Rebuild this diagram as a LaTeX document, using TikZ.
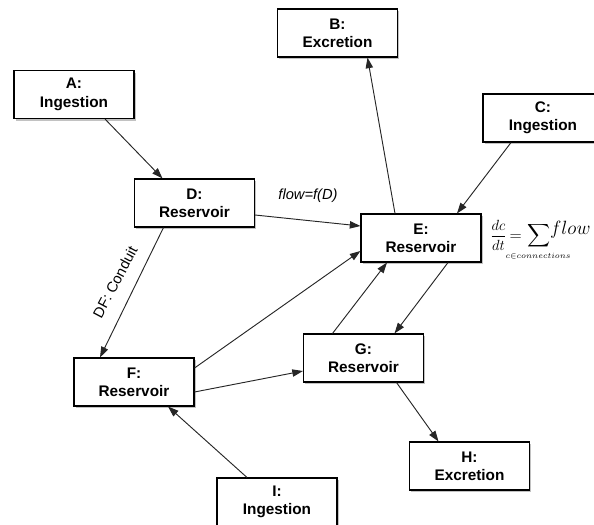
\documentclass[tikz,border=0pt]{standalone}
\usepackage{amsmath}
\usepackage{fontspec}
\setmainfont{Liberation Sans}
\usetikzlibrary{arrows.meta,shadows,calc}
\begin{document}
\begin{tikzpicture}[x=0.75pt,y=-0.75pt,
  box/.style={draw=black, line width=0.8pt, fill=white, minimum width=90pt, minimum height=36pt,
    inner sep=0pt, align=center, font=\fontsize{11.5}{13.8}\selectfont\bfseries,
    drop shadow={shadow xshift=1.2pt, shadow yshift=-1.6pt, fill=black!40, opacity=0.6}},
  conn/.style={draw=black!85, line width=0.7pt, -{Triangle[length=8pt,width=5.5pt]}},
  lbl/.style={font=\fontsize{11}{13}\selectfont\itshape, inner sep=0pt}]
\useasboundingbox (0,0) rectangle (594,525);
\clip (0,0) rectangle (594,525);
\node[box] (A) at (74,94.5) {A:\\Ingestion};
\node[box] (B) at (337.5,33) {B:\\Excretion};
\node[box] (C) at (543,118) {C:\\Ingestion};
\node[box] (D) at (194.5,203) {D:\\Reservoir};
\node[box] (E) at (421,238) {E:\\Reservoir};
\node[box] (F) at (134,382) {F:\\Reservoir};
\node[box] (G) at (363.5,358) {G:\\Reservoir};
\node[box] (H) at (469.5,466) {H:\\Excretion};
\node[box] (I) at (277,502) {I:\\Ingestion};
% connectors
\draw[conn] ($(A.south)+(31,0)$) -- ($(D.north)+(-32,0)$);
\draw[conn] ($(D.east)+(0,12)$) -- ($(E.west)+(0,-12)$);
\draw[conn] ($(D.south)+(-31,0)$) -- ($(F.north)+(-34,0)$);
\draw[conn] ($(E.north)+(-26,0)$) -- ($(B.south)+(30,0)$);
\draw[conn] ($(C.south)+(-32,0)$) -- ($(E.north)+(36,0)$);
\draw[conn] ($(E.south)+(27,0)$) -- ($(G.north)+(31,0)$);
\draw[conn] ($(G.north)+(-31,0)$) -- ($(E.south)+(-34,0)$);
\draw[conn] ($(F.east)+(0,-14)$) -- ($(E.west)+(0,13)$);
\draw[conn] ($(F.east)+(0,10)$) -- ($(G.west)+(0,13)$);
\draw[conn] ($(G.south)+(33,0)$) -- ($(H.north)+(-31,0)$);
\draw[conn] ($(I.north)+(-30,0)$) -- ($(F.south)+(34,0)$);
% labels
\node[lbl] (flowlbl) at (308,196) {flow=f(D)};
\node[lbl, font=\fontsize{11}{13}\selectfont, rotate=62] (dflbl) at (115,282) {DF: Conduit};
\node[inner sep=0pt, anchor=base west, font=\fontsize{12}{14}\selectfont] (eq) at (490,240)
  {$\scalebox{0.92}{$\displaystyle\frac{dc}{dt}$}\,{=}\,\displaystyle\sum\limits_{\hbox to 0pt{\kern-8.5pt$\scriptscriptstyle c\in connections$\hss}}\mkern-3mu\raisebox{4pt}{\fontsize{14.5}{17}\selectfont$flow$}$};
\end{tikzpicture}
\end{document}
